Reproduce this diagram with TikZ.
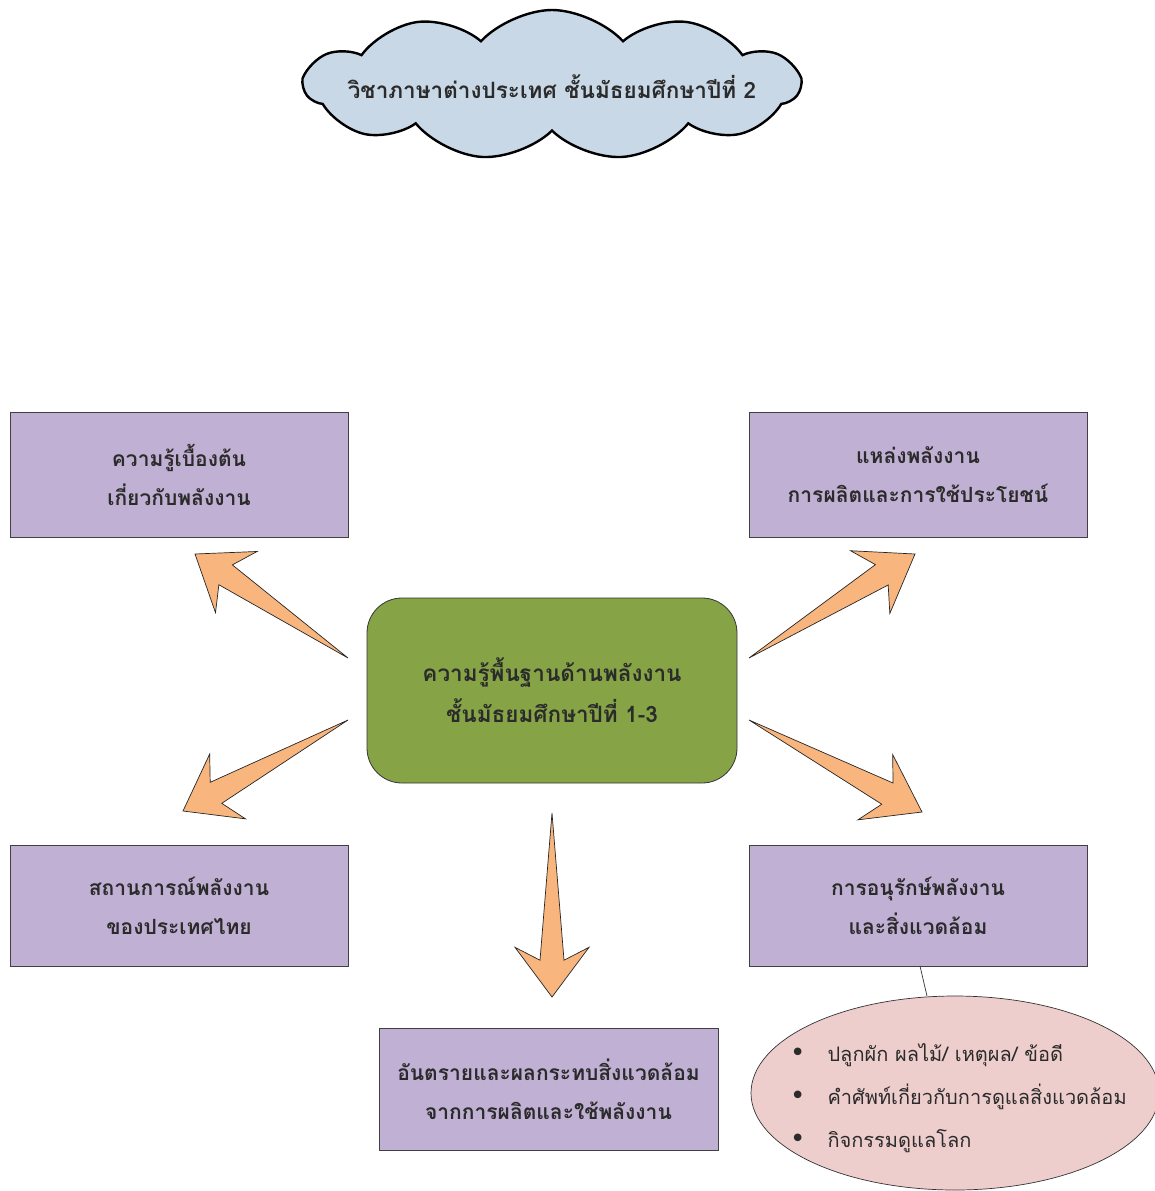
\documentclass[tikz,border=0pt]{standalone}
\usepackage{fontspec}
\usetikzlibrary{shapes.symbols,shapes.geometric,calc}
\newfontfamily\thai[Script=Thai]{Loma}
\newfontfamily\dejavu{DejaVu Sans}
\definecolor{boxfill}{HTML}{C0B0D3}
\definecolor{ctrfill}{HTML}{86A446}
\definecolor{cloudfill}{HTML}{C9D8E6}
\definecolor{arrfill}{HTML}{F8B67E}
\definecolor{ellfill}{HTML}{EECECD}
\definecolor{txt}{HTML}{2B2B2B}
\tikzset{
  purplebox/.style={draw=black!75, line width=0.8pt, fill=boxfill, minimum width=338pt, minimum height=124pt,
    inner sep=0pt, align=center, text=txt, font=\thai\bfseries\fontsize{21}{39}\selectfont},
  fatarr/.style={draw=black!85, line width=0.7pt, fill=arrfill, line join=miter},
}
\newcommand\fatarrow[2]{%
  \draw[fatarr] (#1) -- ($(#1)!0.80!(#2)!12pt!90:(#2)$) -- ($(#1)!0.73!(#2)!37pt!90:(#2)$) -- (#2)
    -- ($(#1)!0.73!(#2)!37pt!-90:(#2)$) -- ($(#1)!0.80!(#2)!12pt!-90:(#2)$) -- cycle;}
\begin{document}
\begin{tikzpicture}[x=1pt,y=-1pt]
\useasboundingbox (0,0) rectangle (1155,1191);
% cloud
\node[cloud, cloud puffs=11, cloud puff arc=95, draw=black, line width=2.4pt, fill=cloudfill,
  minimum width=495pt, minimum height=150pt, inner sep=0pt] (cloudshape) at (552,85) {};
\node[text=txt, inner sep=0pt, font=\thai\bfseries\fontsize{22.5}{26}\selectfont] (title) at (552,87)
  {วิชาภาษาต่างประเทศ ชั้นมัธยมศึกษาปีที่ 2};
% boxes
\node[purplebox, minimum height=125pt] (b1) at (179,474.5) {ความรู้เบื้องต้น\\เกี่ยวกับพลังงาน};
\node[purplebox, minimum height=125pt] (b2) at (918,474.5) {แหล่งพลังงาน\\การผลิตและการใช้ประโยชน์};
\node[purplebox, minimum height=121pt] (b3) at (179,905.5) {สถานการณ์พลังงาน\\ของประเทศไทย};
\node[purplebox, minimum height=121pt] (b4) at (918,905.5) {การอนุรักษ์พลังงาน\\และสิ่งแวดล้อม};
\node[purplebox, minimum width=339pt, minimum height=122pt] (b5) at (548.5,1089) {อันตรายและผลกระทบสิ่งแวดล้อม\\จากการผลิตและใช้พลังงาน};
% center
\node[draw=black!80, line width=0.8pt, fill=ctrfill, rounded corners=35pt, minimum width=370pt, minimum height=185pt,
  inner sep=0pt, align=center, text=txt, font=\thai\bfseries\fontsize{22.5}{41}\selectfont] (ctr) at (552,690.5)
  {ความรู้พื้นฐานด้านพลังงาน\\ชั้นมัธยมศึกษาปีที่ 1-3};
% ellipse
\node[ellipse, draw=black!80, line width=0.7pt, fill=ellfill, minimum width=408pt, minimum height=194pt, inner sep=0pt] (ell) at (955,1093) {};
\node[anchor=west, align=left, text=txt, font=\thai\fontsize{20}{43}\selectfont, inner sep=0pt] (elltxt) at (790,1098)
  {{\dejavu\fontsize{26}{43}\selectfont •}\hspace{22pt}ปลูกผัก ผลไม้/ เหตุผล/ ข้อดี\\
   {\dejavu\fontsize{26}{43}\selectfont •}\hspace{22pt}คำศัพท์เกี่ยวกับการดูแลสิ่งแวดล้อม\\
   {\dejavu\fontsize{26}{43}\selectfont •}\hspace{22pt}กิจกรรมดูแลโลก};
\coordinate (lnA) at (920,966);
\coordinate (lnB) at (927,996);
\draw[black!80, line width=0.7pt] (lnA) -- (lnB);
% arrows
\coordinate (t1) at (348,658); \coordinate (h1) at (195,554);
\coordinate (t2) at (749,658); \coordinate (h2) at (915,554);
\coordinate (t3) at (348,720); \coordinate (h3) at (183,811);
\coordinate (t4) at (749,720); \coordinate (h4) at (922,812);
\coordinate (t5) at (552,813); \coordinate (h5) at (552,997);
\fatarrow{t1}{h1}
\fatarrow{t2}{h2}
\fatarrow{t3}{h3}
\fatarrow{t4}{h4}
\fatarrow{t5}{h5}
\end{tikzpicture}
\end{document}
